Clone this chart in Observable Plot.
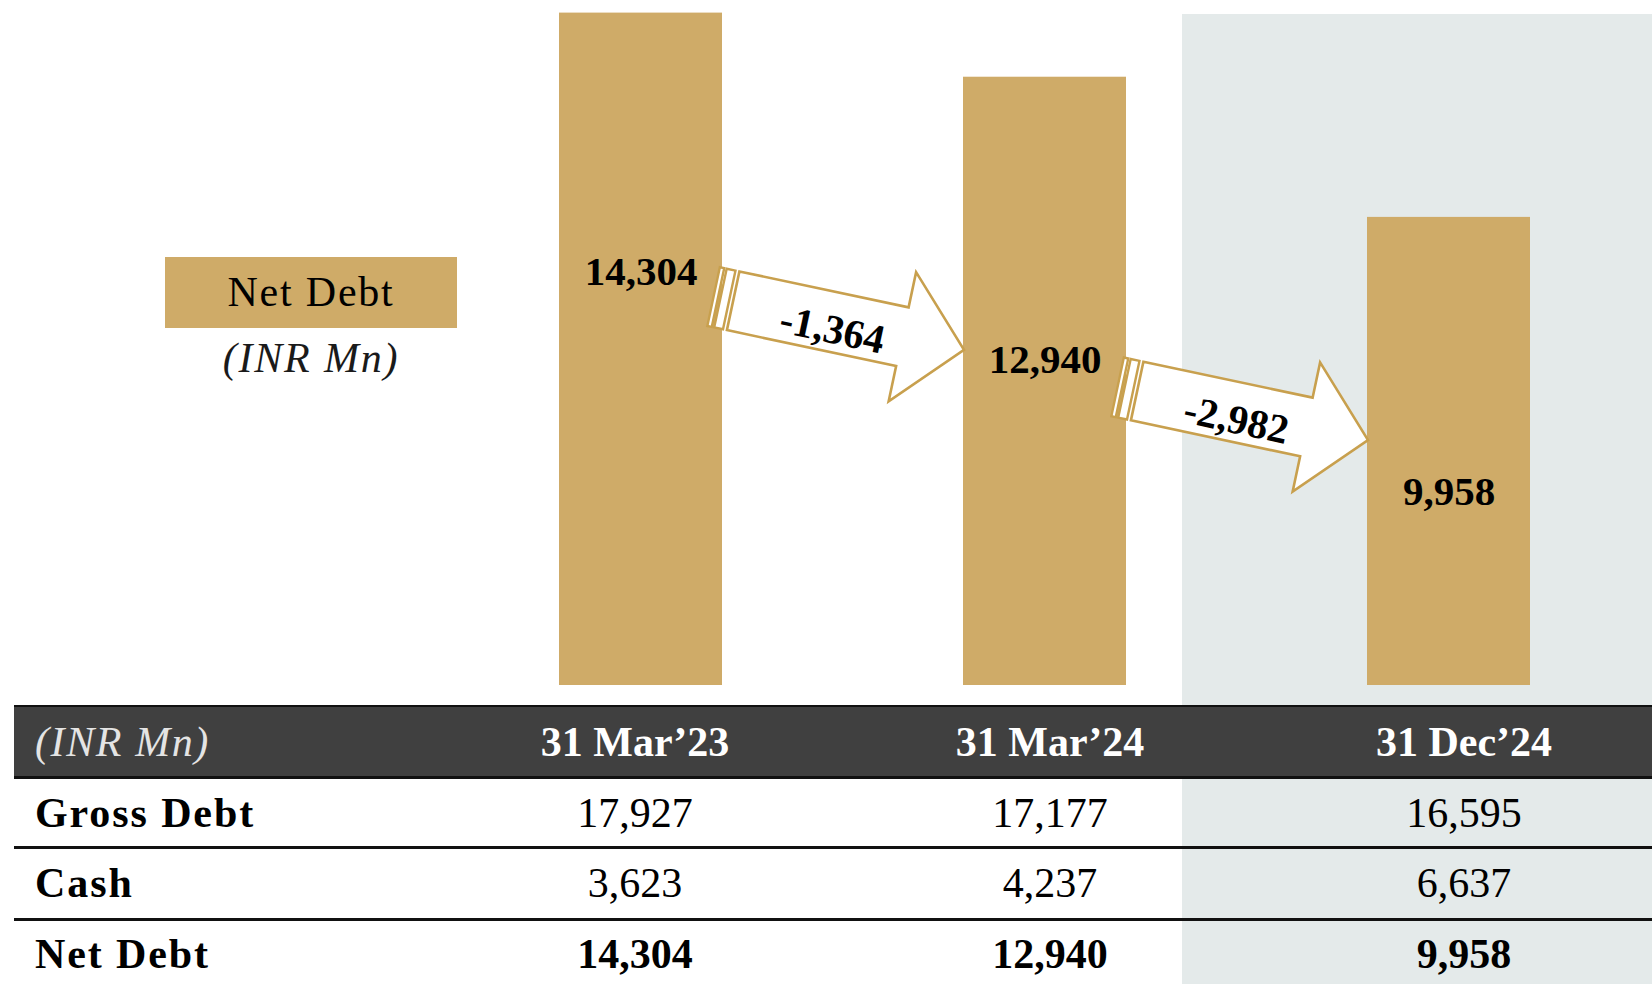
<!DOCTYPE html>
<html>
<head>
<meta charset="utf-8">
<script src="https://cdn.jsdelivr.net/npm/d3@7"></script>
<script src="https://cdn.jsdelivr.net/npm/@observablehq/plot@0.6"></script>
<style>
  body { margin: 0; background: #fff; }
  #page { position: relative; width: 1652px; height: 984px; overflow: hidden;
          font-family: "Liberation Serif", "Times New Roman", serif; color: #000; }
  #band { position: absolute; left: 1182px; top: 14px; width: 470px; height: 970px; background: #e4eaea; }
  #chart { position: absolute; left: 0; top: 0; }
  #legend { position: absolute; left: 165px; top: 257px; width: 292px; height: 71px; background: #cfab68;
            font-size: 42px; line-height: 71px; text-align: center; letter-spacing: 1.8px; }
  #legendUnit { position: absolute; left: 165px; top: 328px; width: 292px; height: 60px; line-height: 60px;
                font-size: 42px; font-style: italic; text-align: center; color: #1a1a1a; letter-spacing: 1.8px; }
  .line { position: absolute; left: 14px; width: 1638px; background: #111; }
  .hdr { position: absolute; left: 14px; width: 1638px; top: 707px; height: 70px; background: #404040; }
  .cell { position: absolute; font-size: 42px; white-space: nowrap; }
  .c { width: 400px; text-align: center; }
</style>
</head>
<body>
<div id="page">
  <div id="band"></div>
  <div id="legend">Net Debt</div>
  <div id="legendUnit">(INR Mn)</div>
  <div id="table"></div>
  <div id="chart"></div>
</div>
<script>
// ---- data ----
const periods = ["31 Mar\u201923", "31 Mar\u201924", "31 Dec\u201924"];
const netDebt = [14304, 12940, 9958];
const grossDebt = [17927, 17177, 16595];
const cash = [3623, 4237, 6637];
const changes = [-1364, -2982];
const rowLabels = ["Gross Debt", "Cash", "Net Debt"];
const unitLabel = "(INR Mn)";

const fmt = v => (v < 0 ? "-" : "") + d3.format(",")(Math.abs(v));
const gold = "#cfab68";
const arrowGold = "#c8a04e";

const data = periods.map((p, i) => ({period: p, value: netDebt[i]}));
// layout only: how far below the bar top each value label sits (data units)
const labelDrop = [5500, 6005, 5830];
// layout only: arrow tip heights (data units)
const arrowTipAt = [7130, 5210];

const chart = Plot.plot({
  width: 1652,
  height: 700,
  margin: 0,
  style: {background: "transparent", fontFamily: "Liberation Serif, serif", overflow: "visible"},
  x: {type: "band", domain: periods, range: [558, 1531], paddingInner: 0.5975, paddingOuter: 0, axis: null},
  y: {domain: [0, 14304], range: [685, 12.6], axis: null},
  marks: [
    Plot.barY(data, {x: "period", y: "value", fill: gold}),
    Plot.text(data, {x: "period", y: (d, i) => d.value - labelDrop[i], text: d => fmt(d.value),
                     fontSize: 41, fontWeight: "bold", fill: "#000"})
  ]
});
document.getElementById("chart").appendChild(chart);

// arrows between bars, positioned with the plot's scales
const xs = chart.scale("x"), ys = chart.scale("y");
const svg = d3.select(chart);
const u0 = -236;
changes.forEach((c, i) => {
  const tx = xs.apply(periods[i + 1]) + 1;
  const ty = ys.apply(arrowTipAt[i]);
  const g = svg.append("g").attr("transform", `translate(${tx},${ty}) rotate(12)`);
  const stripe = (a, b) => [[u0 + a, -30], [u0 + b, -30], [u0 + b, 30], [u0 + a, 30]];
  [stripe(-20, -15.5), stripe(-13, -4)].forEach(pts => {
    g.append("polygon").attr("points", pts.map(p => p.join(",")).join(" "))
      .attr("fill", "#fff").attr("stroke", arrowGold).attr("stroke-width", 2.4);
  });
  const body = [[u0, -30], [-63, -30], [-63, -66], [0, 0], [-63, 66], [-63, 30], [u0, 30]];
  g.append("polygon").attr("points", body.map(p => p.join(",")).join(" "))
    .attr("fill", "#fff").attr("stroke", arrowGold).attr("stroke-width", 2.6).attr("stroke-linejoin", "miter");
  g.append("text").attr("x", -133).attr("y", 7)
    .attr("text-anchor", "middle").attr("dominant-baseline", "central")
    .attr("font-family", "Liberation Serif, serif").attr("font-size", 41).attr("font-weight", "bold")
    .text(fmt(c));
});

// ---- table ----
const table = document.getElementById("table");
const centers = [635, 1050, 1464];
const add = (html) => { table.insertAdjacentHTML("beforeend", html); };
add(`<div class="line" style="top:705px;height:3px"></div>`);
add(`<div class="hdr"></div>`);
add(`<div class="line" style="top:776px;height:3px"></div>`);
add(`<div class="line" style="top:846px;height:2.5px"></div>`);
add(`<div class="line" style="top:918px;height:2.5px"></div>`);
const rowTops = [707, 778, 848, 919];
const rowH = 71;
add(`<div class="cell" style="left:35px;top:${rowTops[0]}px;line-height:${rowH}px;font-style:italic;color:#e4e4e4;letter-spacing:1.6px">${unitLabel}</div>`);
periods.forEach((p, j) => {
  add(`<div class="cell c" style="left:${centers[j] - 200}px;top:${rowTops[0]}px;line-height:${rowH}px;font-weight:bold;color:#fff">${p}</div>`);
});
const rows = [grossDebt, cash, netDebt];
rows.forEach((vals, r) => {
  const bold = r === 2 ? "font-weight:bold;" : "";
  add(`<div class="cell" style="left:35px;top:${rowTops[r + 1]}px;line-height:${rowH}px;font-weight:bold;letter-spacing:1.9px">${rowLabels[r]}</div>`);
  vals.forEach((v, j) => {
    add(`<div class="cell c" style="left:${centers[j] - 200}px;top:${rowTops[r + 1]}px;line-height:${rowH}px;${bold}">${fmt(v)}</div>`);
  });
});
</script>
</body>
</html>
